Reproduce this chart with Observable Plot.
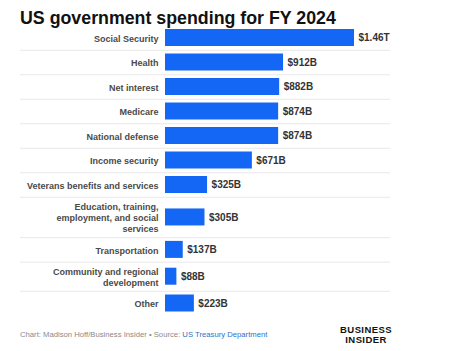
<!DOCTYPE html>
<html>
<head>
<meta charset="utf-8">
<script src="https://cdn.jsdelivr.net/npm/d3@7"></script>
<script src="https://cdn.jsdelivr.net/npm/@observablehq/plot@0.6"></script>
<style>
  html, body { margin: 0; padding: 0; background: #fff; }
  body { width: 453px; height: 351px; position: relative; overflow: hidden; font-family: "Liberation Sans", Arial, sans-serif; }
  #title { position: absolute; left: 20px; top: 8px; font-size: 17.8px; font-weight: bold; color: #111; line-height: 20px; white-space: nowrap; z-index: 2; }
  #chart { position: absolute; left: 0; top: 0; }
  #footer { position: absolute; left: 20px; top: 330px; font-size: 7.7px; color: #8a8a8a; line-height: 10px; white-space: nowrap; }
  #footer span { color: #2f6fc9; }
  #logo { position: absolute; left: 334px; top: 325px; width: 64px; text-align: center; font-size: 9.5px; font-weight: bold; line-height: 10px; color: #111; letter-spacing: 0.4px; }
  #logo div { height: 10px; }
</style>
</head>
<body>
<div id="chart"></div>
<div id="title">US government spending for FY 2024</div>
<div id="footer">Chart: Madison Hoff/Business Insider • Source: <span>US Treasury Department</span></div>
<div id="logo"><div>BUSINESS</div><div>INSIDER</div></div>
<script>
const categories = [
  "Social Security",
  "Health",
  "Net interest",
  "Medicare",
  "National defense",
  "Income security",
  "Veterans benefits and services",
  "Education, training,\nemployment, and social\nservices",
  "Transportation",
  "Community and regional\ndevelopment",
  "Other"
];
const values = [1460, 912, 882, 874, 874, 671, 325, 305, 137, 88, 223];
const valueLabels = ["$1.46T", "$912B", "$882B", "$874B", "$874B", "$671B", "$325B", "$305B", "$137B", "$88B", "$223B"];

// layout rows: height depends on number of label lines
const barH = 17, lineH = 11.3, pad = 7.5;
let acc = 0;
const rows = categories.map((c, i) => {
  const lines = c.split("\n").length;
  const h = lines === 1 ? barH + pad : lineH * lines + 6.5;
  const r = {category: c, value: values[i], label: valueLabels[i], top: acc, mid: acc + h / 2, bottom: acc + h};
  acc += h;
  return r;
});
const total = acc;
const boundaries = rows.slice(0, -1).map(r => r.bottom);

const plot = Plot.plot({
  width: 453,
  height: 322,
  marginLeft: 20,
  marginRight: 63,
  marginTop: 25.25,
  marginBottom: 6,
  x: {domain: [0, 1460], range: [165, 354], axis: null},
  y: {domain: [0, total], range: [25.25, 25.25 + total], axis: null},
  style: {fontFamily: "'Liberation Sans', Arial, sans-serif", background: "transparent"},
  marks: [
    Plot.ruleY(boundaries, {stroke: "#e8e8e8", strokeWidth: 1}),
    Plot.rectX(rows, {x1: 0, x2: "value", y1: d => d.mid - barH / 2, y2: d => d.mid + barH / 2, fill: "#1466f4"}),
    Plot.text(rows, {x: 0, y: "mid", text: "category", textAnchor: "end", dx: -7, fontSize: 9, fontWeight: "bold", fill: "#4a4a4a", lineHeight: 1.25, lineAnchor: "middle"}),
    Plot.text(rows, {x: "value", y: "mid", text: "label", textAnchor: "start", dx: 4, fontSize: 10, fontWeight: "bold", fill: "#333"})
  ]
});
document.getElementById("chart").appendChild(plot);
</script>
</body>
</html>
